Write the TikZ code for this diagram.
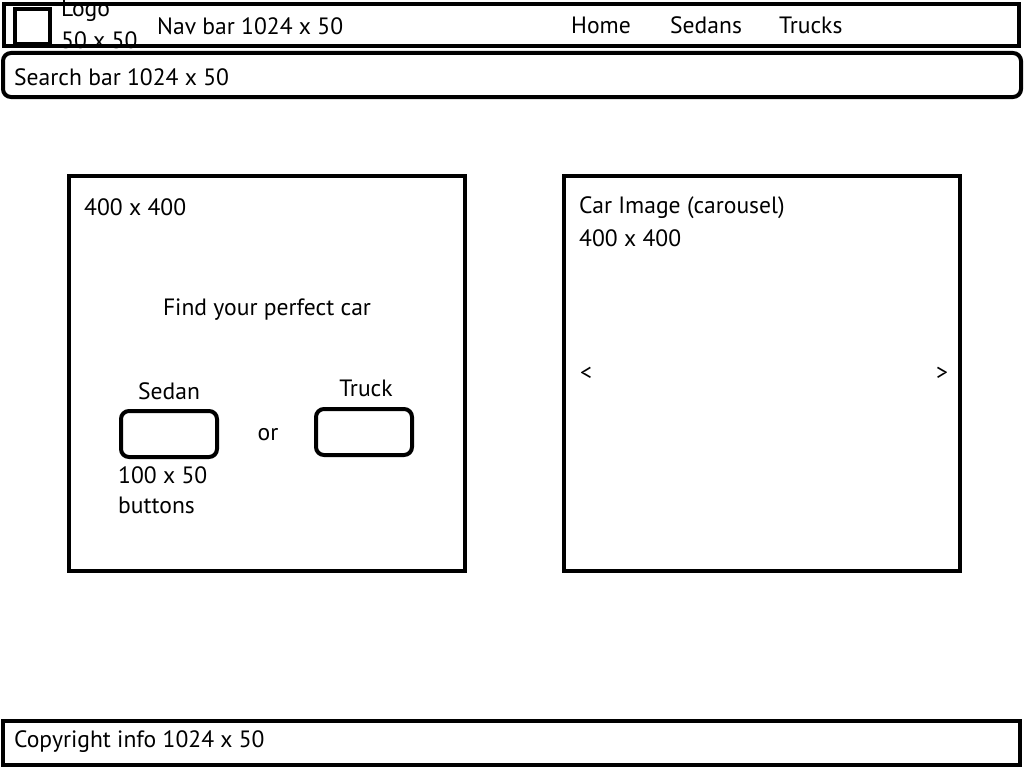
\documentclass[tikz,border=0pt]{standalone}
\usepackage{fontspec}
\setmainfont{PT Sans}
\begin{document}
\begin{tikzpicture}[x=1pt,y=-1pt,
  frame/.style={draw=black,line width=4pt,fill=none},
  roundframe/.style={frame,rounded corners=8pt},
  lbl/.style={inner sep=0pt,font=\fontsize{23.6}{27}\selectfont},
  lblw/.style={lbl,anchor=west}]
\useasboundingbox[fill=white] (0,0) rectangle (1024,768);

% top navigation bar
\node[lblw] (logotxt) at (61,11) {Logo};
\node[lblw] (logosize) at (61,40) {50 x 50};
\draw[frame] (4,4) rectangle (1019,46);
\draw[frame] (15,9) rectangle (50,44);
\node[lblw] (navtxt) at (157,26) {Nav bar 1024 x 50};
\node[lblw] (home) at (571,25) {Home};
\node[lblw] (sedans) at (670,25) {Sedans};
\node[lblw] (trucks) at (779,25) {Trucks};

% search bar
\draw[roundframe] (3,53) rectangle (1021,97);
\node[lblw] (search) at (14,77) {Search bar 1024 x 50};

% left panel with the two choice buttons
\draw[frame] (69,176) rectangle (465,571);
\node[lblw] (lsize) at (84,207) {400 x 400};
\node[lbl] (find) at (267,310) {Find your perfect car};
\node[lbl] (sedanlbl) at (169,391) {Sedan};
\draw[roundframe] (121,411) rectangle (217,457);
\node[lbl] (or) at (268,435) {or};
\node[lbl] (trucklbl) at (366,388) {Truck};
\draw[roundframe] (316,409) rectangle (412,455);
\node[lblw] (btnsize) at (118,475) {100 x 50};
\node[lblw] (btns) at (118,505) {buttons};

% right panel: image carousel
\draw[frame] (564,176) rectangle (960,571);
\node[lblw] (carimg) at (579,208) {Car Image (carousel)};
\node[lblw] (rsize) at (579,238) {400 x 400};
\node[lbl] (prev) at (586,374) {<};
\node[lbl] (next) at (942,374) {>};

% footer
\draw[frame] (3,721) rectangle (1020,765);
\node[lblw] (copy) at (14,742) {Copyright info 1024 x 50};
\end{tikzpicture}
\end{document}
